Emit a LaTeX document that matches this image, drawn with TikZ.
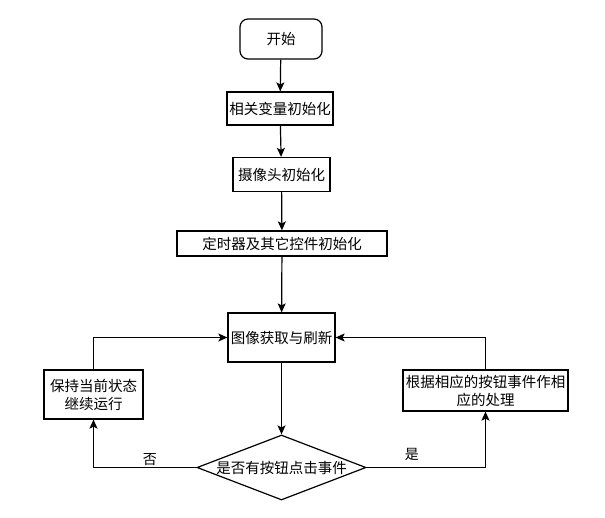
\documentclass[tikz,border=0pt]{standalone}
\usepackage{fontspec}
\newfontfamily\cjk{Noto Sans CJK SC}
\usetikzlibrary{shapes.geometric,arrows.meta}
\begin{document}
\begin{tikzpicture}[x=1pt,y=-1pt,
  box/.style={draw,line width=1.2pt,inner sep=0pt,align=center,font=\cjk\fontsize{14.5}{18}\selectfont},
  startbox/.style={box,rounded corners=8pt},
  decbox/.style={box,diamond,shape aspect=2.6},
  arr/.style={line width=1.2pt,-{Stealth[length=9pt,width=8pt,inset=2pt]}},
  lbl/.style={font=\cjk\fontsize{14}{16}\selectfont,inner sep=1pt}]
\useasboundingbox (0,0) rectangle (605,517);
\node[startbox,minimum width=82pt,minimum height=40pt] (s) at (281,39) {开始};
\node[box,minimum width=106pt,minimum height=33pt] (n1) at (280,108.5) {相关变量初始化};
\node[box,minimum width=97pt,minimum height=34pt] (n2) at (281.5,174.5) {摄像头初始化};
\node[box,minimum width=210pt,minimum height=25pt] (n3) at (282,243.5) {定时器及其它控件初始化};
\node[box,minimum width=107pt,minimum height=49pt] (n4) at (281.5,337.5) {图像获取与刷新};
\node[box,minimum width=99pt,minimum height=49pt] (l) at (93.5,394.5) {保持当前状态\\继续运行};
\node[box,minimum width=165pt,minimum height=41pt] (r) at (485.5,390.5) {根据相应的按钮事件作相\\应的处理};
\node[decbox,minimum width=169pt,minimum height=65pt] (d) at (281.5,467.5) {是否有按钮点击事件};
\draw[arr] (s) -- (n1);
\draw[arr] (n1) -- (n2);
\draw[arr] (n2) -- (n3);
\draw[arr] (n3) -- (n4);
\draw[arr] (n4) -- (d);
\draw[arr] (d.west) -| node[lbl,pos=0.226,above=0pt] {否} (l.south);
\draw[arr] (d.east) -| node[lbl,pos=0.19,above=5pt] {是} (r.south);
\draw[arr] (l.north) |- (n4.west);
\draw[arr] (r.north) |- (n4.east);
\end{tikzpicture}
\end{document}
